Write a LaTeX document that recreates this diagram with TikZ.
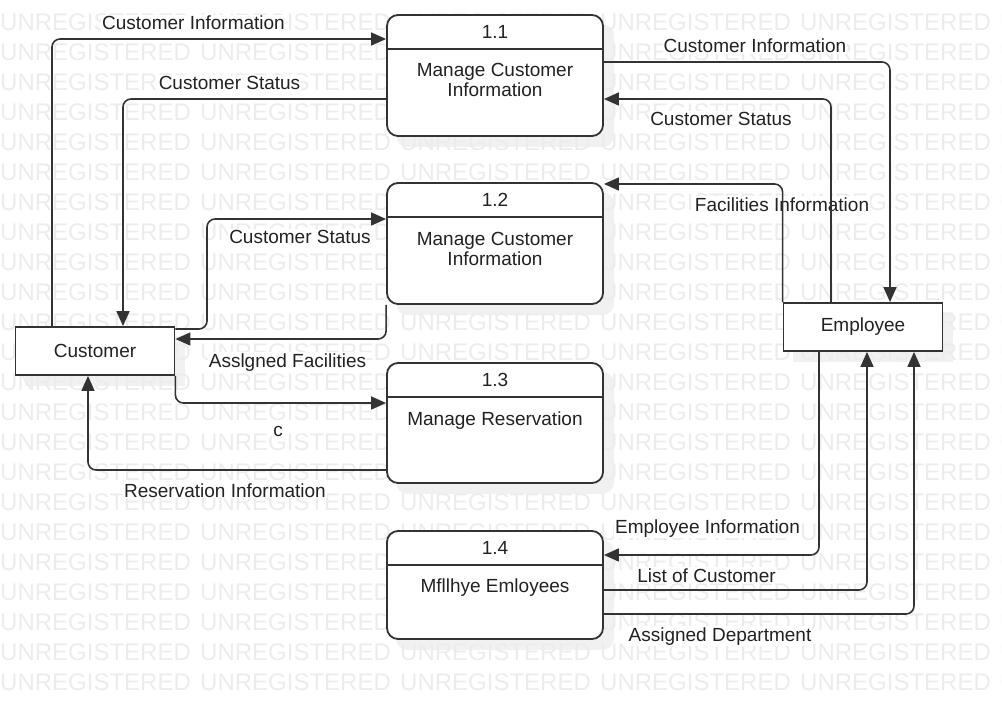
\documentclass[tikz,border=0pt]{standalone}
\usepackage{fontspec}
\setmainfont{Liberation Sans}
\usetikzlibrary{arrows.meta,calc}
\definecolor{wmgray}{RGB}{236,236,236}
\definecolor{shgray}{RGB}{241,241,241}
\definecolor{linec}{RGB}{51,51,51}
\definecolor{textc}{RGB}{34,34,34}
\pgfdeclarelayer{shadowlayer}
\pgfdeclarelayer{wmlayer}
\pgfsetlayers{shadowlayer,wmlayer,main}
\begin{document}
\begin{tikzpicture}[x=1pt,y=-1pt,
  every node/.style={font=\fontsize{19}{20}\selectfont, text=textc},
  procbox/.style={draw=linec, line width=1.8pt, fill=white, rounded corners=11pt, minimum width=216pt, inner sep=0pt},
  entbox/.style={draw=linec, line width=1.8pt, fill=white, minimum width=159pt, minimum height=48pt, inner sep=0pt},
  divider/.style={draw=linec, line width=1.8pt},
  shadowfill/.style={fill=shgray, rounded corners=11pt},
  flow/.style={draw=linec, line width=1.6pt, rounded corners=8pt, -{Triangle[length=15pt,width=13pt]}},
  plainflow/.style={draw=linec, line width=1.6pt, rounded corners=8pt},
  lbl/.style={fill=white, inner sep=1pt, anchor=base},
  numtxt/.style={anchor=base},
  wm/.style={font=\fontsize{24}{24}\selectfont, text=wmgray, inner sep=0pt, anchor=base west}
]
\useasboundingbox (0,0) rectangle (1002,705);

% entities
\node[entbox] (cust) at (95,351) {Customer};
\node[entbox] (emp) at (863,327) {Employee};

% processes
\node[procbox, minimum height=121pt] (p11) at (495,75.5) {};
\node[procbox, minimum height=121pt] (p12) at (495,243.5) {};
\node[procbox, minimum height=120pt] (p13) at (495,423) {};
\node[procbox, minimum height=108pt] (p14) at (495,585) {};

\draw[divider] ($(p11.north west)+(0.9,34.5)$) -- ($(p11.north east)+(-0.9,34.5)$);
\draw[divider] ($(p12.north west)+(0.9,35)$) -- ($(p12.north east)+(-0.9,35)$);
\draw[divider] ($(p13.north west)+(0.9,35)$) -- ($(p13.north east)+(-0.9,35)$);
\draw[divider] ($(p14.north west)+(0.9,35)$) -- ($(p14.north east)+(-0.9,35)$);

\node[numtxt] (n11) at (495,38) {1.1};
\node[numtxt] (n12) at (495,206) {1.2};
\node[numtxt] (n13) at (495,386) {1.3};
\node[numtxt] (n14) at (495,554) {1.4};

\node[align=center] (t11) at (495,80) {Manage Customer\\Information};
\node[align=center] (t12) at (495,248.5) {Manage Customer\\Information};
\node[numtxt] (t13) at (495,425) {Manage Reservation};
\node[numtxt] (t14) at (495,592) {Mfllhye Emloyees};

% shadows
\begin{pgfonlayer}{shadowlayer}
\foreach \b in {p11,p12,p13,p14}{
  \fill[shadowfill] ($(\b.north west)+(10,10)$) rectangle ($(\b.south east)+(10,10)$);
}
\foreach \b in {cust,emp}{
  \fill[shgray] ($(\b.north west)+(10,10)$) rectangle ($(\b.south east)+(10,10)$);
}
\end{pgfonlayer}

% watermark
\begin{pgfonlayer}{wmlayer}
\begin{scope}
\clip (0,0) rectangle (1002,705);
\foreach \r in {0,...,22}{
  \foreach \c in {0,...,5}{
    \node[wm] (wm-\r-\c) at ({200*\c},{30+30*\r}) {UNREGISTERED};
  }
}
\end{scope}
\end{pgfonlayer}

% labels
\node[lbl] (l1) at (193.5,29.5) {Customer Information};
\node[lbl] (l2) at (229.5,89) {Customer Status};
\node[lbl] (l3) at (755,52.5) {Customer Information};
\node[lbl] (l4) at (721,125) {Customer Status};
\node[lbl] (l5) at (782,211) {Facilities Information};
\node[lbl] (l6) at (300,243) {Customer Status};
\node[lbl] (l7) at (287.5,367) {Asslgned Facilities};
\node[lbl] (l8) at (278,436) {c};
\node[lbl] (l9) at (225,497) {Reservation Information};
\node[lbl] (l10) at (707.5,533) {Employee Information};
\node[lbl] (l11) at (706.5,582) {List of Customer};
\node[lbl] (l12) at (720,641) {Assigned Department};

% connectors
\coordinate (k6) at (207,219);
\draw[flow] (cust.north -| 52,0) |- (p11.west |- 0,39);
\draw[flow] (p11.west |- 0,99) -| (cust.north -| 123,0);
\draw[flow] (p11.east |- 0,62) -| (emp.north -| 890,0);
\draw[flow] (emp.north -| 831,0) |- (p11.east |- 0,99);
\draw[flow] (emp.north west) |- (p12.east |- 0,184);
\draw[flow] (cust.east |- 0,329) -| (k6) -- (p12.west |- k6);
\draw[flow] (p12.south west) |- (cust.east |- 0,339);
\draw[flow] (cust.south east) |- (p13.west |- 0,403);
\draw[flow] (p13.west |- 0,470) -| (cust.south -| 88,0);
\draw[flow] (emp.south -| 819,0) |- (p14.east |- 0,555);
\draw[flow] (p14.east |- 0,590) -| (emp.south -| 867,0);
\draw[flow] (p14.east |- 0,614) -| (emp.south -| 914,0);
\end{tikzpicture}
\end{document}
